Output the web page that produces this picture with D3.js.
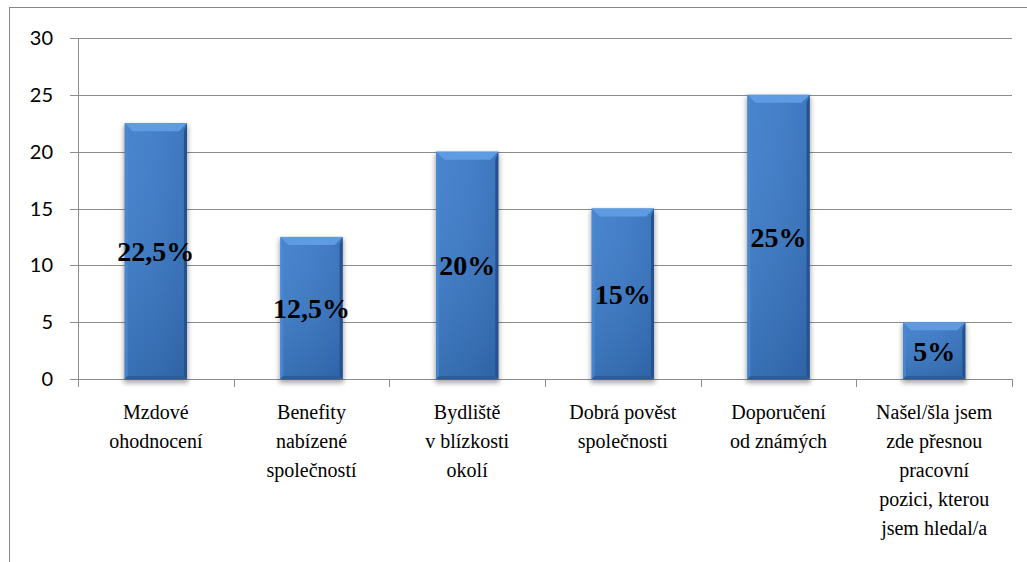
<!DOCTYPE html>
<html>
<head>
<meta charset="utf-8">
<script src="https://cdn.jsdelivr.net/npm/d3@7"></script>
<style>
  body { margin: 0; background: #fff; }
  svg { display: block; font-family: 'Liberation Serif', 'Times New Roman', serif; }
</style>
</head>
<body>
<svg id="chart"></svg>
<script>
var categories = [
    ['Mzdové', 'ohodnocení'],
    ['Benefity', 'nabízené', 'společností'],
    ['Bydliště', 'v blízkosti', 'okolí'],
    ['Dobrá pověst', 'společnosti'],
    ['Doporučení', 'od známých'],
    ['Našel/šla jsem', 'zde přesnou', 'pracovní', 'pozici, kterou', 'jsem hledal/a']
];
var values = [22.5, 12.5, 20, 15, 25, 5];
var valueLabels = ['22,5%', '12,5%', '20%', '15%', '25%', '5%'];
var yTicks = [0, 5, 10, 15, 20, 25, 30];

var width = 1027, height = 562;
var plotLeft = 78, plotRight = 1012, plotTop = 38, plotBottom = 379;
var serif = '"Liberation Serif"';

var svg = d3.select('svg#chart')
    .attr('width', width)
    .attr('height', height);

// gradients for the bars
var defs = svg.append('defs');
var barGrad = defs.append('linearGradient')
    .attr('id', 'barBody')
    .attr('x1', 0).attr('y1', 0).attr('x2', 1).attr('y2', 0);
barGrad.append('stop').attr('offset', '0%').attr('stop-color', '#3f7fcc');
barGrad.append('stop').attr('offset', '50%').attr('stop-color', '#3b79c6');
barGrad.append('stop').attr('offset', '100%').attr('stop-color', '#3470bb');

var shadeGrad = defs.append('linearGradient')
    .attr('id', 'barShade')
    .attr('x1', 0).attr('y1', 0).attr('x2', 0).attr('y2', 1);
shadeGrad.append('stop').attr('offset', '0%').attr('stop-color', '#fff').attr('stop-opacity', 0.05);
shadeGrad.append('stop').attr('offset', '100%').attr('stop-color', '#000').attr('stop-opacity', 0.12);

var shadowFilter = defs.append('filter').attr('id', 'shadow')
    .attr('x', '-20%').attr('y', '-5%').attr('width', '140%').attr('height', '115%');
shadowFilter.append('feGaussianBlur').attr('stdDeviation', 2.5);

// outer chart border (clipped by the window like in the reference)
svg.append('rect')
    .attr('x', 9.5).attr('y', 7.5)
    .attr('width', 1040).attr('height', 600)
    .attr('fill', 'none')
    .attr('stroke', '#888')
    .attr('stroke-width', 1);

var x = d3.scaleBand()
    .domain(d3.range(categories.length))
    .range([plotLeft, plotRight])
    .paddingInner(0.6)
    .paddingOuter(0.3);

var y = d3.scaleLinear()
    .domain([0, 30])
    .range([plotBottom, plotTop]);

// grid lines
svg.selectAll('line.grid')
    .data(yTicks)
    .enter().append('line')
    .classed('grid', true)
    .attr('x1', plotLeft - 8)
    .attr('x2', plotRight)
    .attr('y1', function (d) { return Math.round(y(d)) + 0.5; })
    .attr('y2', function (d) { return Math.round(y(d)) + 0.5; })
    .attr('stroke', '#8c8c8c')
    .attr('stroke-width', 1);

// y axis line
svg.append('line')
    .attr('x1', plotLeft + 0.5).attr('x2', plotLeft + 0.5)
    .attr('y1', plotTop).attr('y2', plotBottom + 1)
    .attr('stroke', '#8c8c8c');

// category separators
var step = x.step();
svg.selectAll('line.sep')
    .data(d3.range(categories.length + 1))
    .enter().append('line')
    .classed('sep', true)
    .attr('x1', function (i) { return Math.round(plotLeft + i * step) + 0.5; })
    .attr('x2', function (i) { return Math.round(plotLeft + i * step) + 0.5; })
    .attr('y1', plotBottom)
    .attr('y2', plotBottom + 8)
    .attr('stroke', '#8c8c8c');

// bars
var bars = svg.selectAll('g.bar')
    .data(values)
    .enter().append('g')
    .classed('bar', true);

bars.append('rect')
    .attr('x', function (d, i) { return x(i) - 1; })
    .attr('y', function (d) { return y(d) + 2; })
    .attr('width', x.bandwidth() + 2)
    .attr('height', function (d) { return y(0) - y(d) + 2; })
    .attr('fill', '#000')
    .attr('opacity', 0.35)
    .attr('filter', 'url(#shadow)');

bars.append('rect')
    .attr('x', function (d, i) { return x(i); })
    .attr('y', function (d) { return y(d); })
    .attr('width', x.bandwidth())
    .attr('height', function (d) { return y(0) - y(d); })
    .attr('fill', 'url(#barBody)');

bars.append('rect')
    .attr('x', function (d, i) { return x(i); })
    .attr('y', function (d) { return y(d); })
    .attr('width', x.bandwidth())
    .attr('height', function (d) { return y(0) - y(d); })
    .attr('fill', 'url(#barShade)');

var bev = 8;
// top bevel
bars.append('path')
    .attr('d', function (d, i) {
        var x0 = x(i), x1 = x(i) + x.bandwidth(), y0 = y(d);
        return 'M' + x0 + ',' + y0 + 'L' + x1 + ',' + y0 +
            'L' + (x1 - bev) + ',' + (y0 + bev) + 'L' + (x0 + bev) + ',' + (y0 + bev) + 'Z';
    })
    .attr('fill', '#5f9be2');
// left bevel
bars.append('path')
    .attr('d', function (d, i) {
        var x0 = x(i), y0 = y(d), y1 = y(0);
        return 'M' + x0 + ',' + y0 + 'L' + (x0 + 3) + ',' + (y0 + bev) +
            'L' + (x0 + 3) + ',' + (y1 - 3) + 'L' + x0 + ',' + y1 + 'Z';
    })
    .attr('fill', '#4a88d3')
    .attr('opacity', 0.8);
// right bevel
bars.append('path')
    .attr('d', function (d, i) {
        var x1 = x(i) + x.bandwidth(), y0 = y(d), y1 = y(0);
        return 'M' + x1 + ',' + y0 + 'L' + (x1 - 3) + ',' + (y0 + bev) +
            'L' + (x1 - 3) + ',' + (y1 - 3) + 'L' + x1 + ',' + y1 + 'Z';
    })
    .attr('fill', '#23528f');
// bottom bevel
bars.append('path')
    .attr('d', function (d, i) {
        var x0 = x(i), x1 = x(i) + x.bandwidth(), y1 = y(0);
        return 'M' + x0 + ',' + y1 + 'L' + x1 + ',' + y1 +
            'L' + (x1 - 3) + ',' + (y1 - 3) + 'L' + (x0 + 3) + ',' + (y1 - 3) + 'Z';
    })
    .attr('fill', '#2a5d9e');

// y tick labels (sans, like the reference)
svg.selectAll('text.ytick')
    .data(yTicks)
    .enter().append('text')
    .classed('ytick', true)
    .attr('x', 53)
    .attr('y', function (d) { return y(d) + 7; })
    .attr('text-anchor', 'end')
    .style('font-family', '"Lato"')
    .style('font-size', '20px')
    .attr('fill', '#000')
    .text(function (d) { return d; });

// value labels, straight on the svg
svg.selectAll('text.val')
    .data(values)
    .enter().append('text')
    .classed('val', true)
    .attr('x', function (d, i) { return x(i) + x.bandwidth() / 2; })
    .attr('y', function (d) { return (y(d) + y(0)) / 2 + 10; })
    .attr('text-anchor', 'middle')
    .style('font-family', serif)
    .style('font-weight', 'bold')
    .style('font-size', '28px')
    .attr('fill', '#000')
    .text(function (d, i) { return valueLabels[i]; });

// category labels, one text element per line
var catLines = [];
categories.forEach(function (lines, i) {
    lines.forEach(function (t, j) {
        catLines.push({ cat: i, line: j, text: t });
    });
});

svg.selectAll('text.cat')
    .data(catLines)
    .enter().append('text')
    .classed('cat', true)
    .attr('x', function (d) { return x(d.cat) + x.bandwidth() / 2; })
    .attr('y', function (d) { return 419 + d.line * 29; })
    .attr('text-anchor', 'middle')
    .style('font-family', serif)
    .style('font-size', '20px')
    .attr('fill', '#000')
    .text(function (d) { return d.text; });
</script>
</body>
</html>
